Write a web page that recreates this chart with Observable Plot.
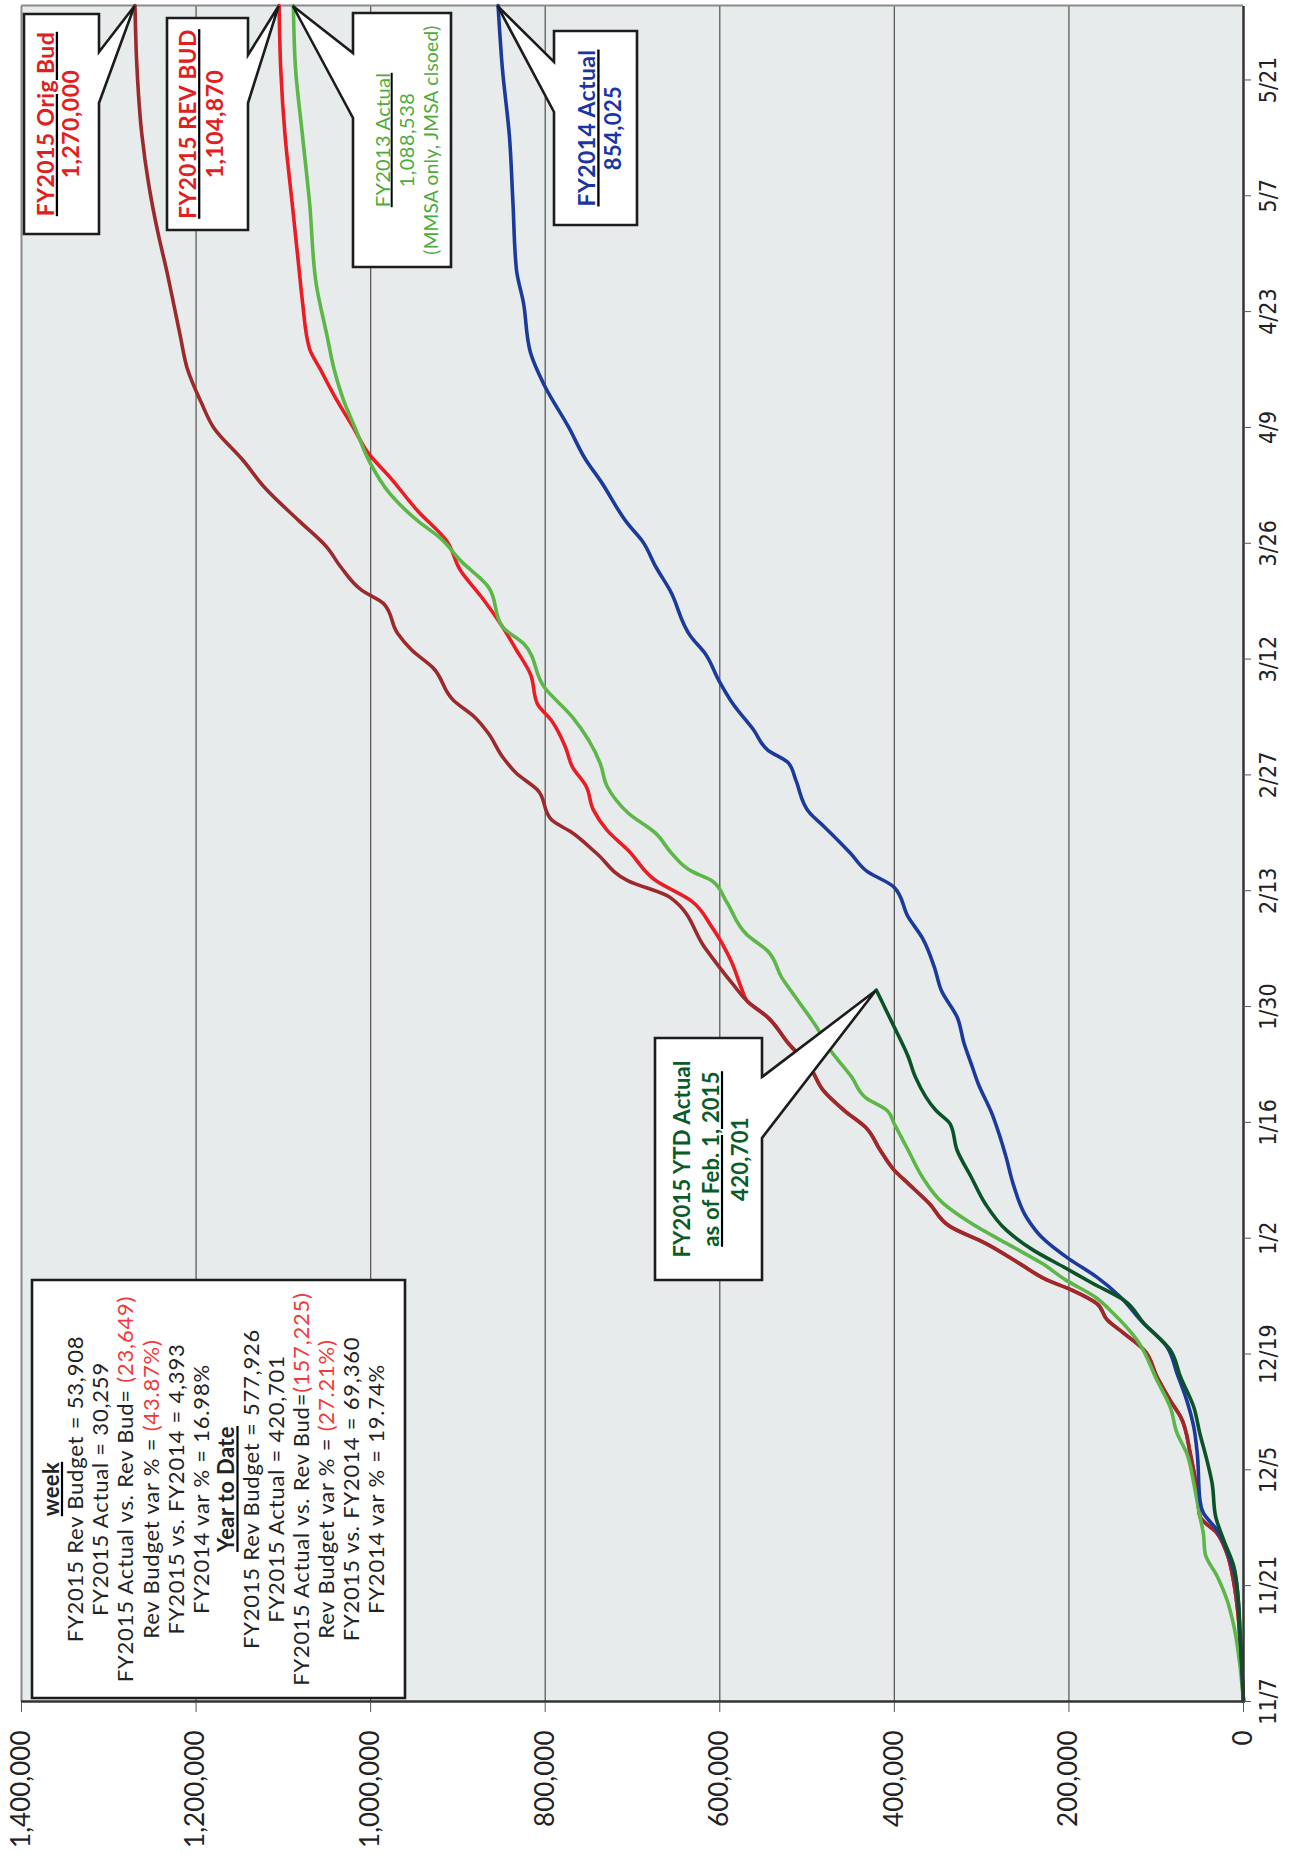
<!DOCTYPE html>
<html>
<head>
<meta charset="utf-8">
<script src="https://cdn.jsdelivr.net/npm/d3@7"></script>
<script src="https://cdn.jsdelivr.net/npm/@observablehq/plot@0.6"></script>
<style>
html, body { margin: 0; padding: 0; background: #ffffff; }
#page { position: relative; width: 1299px; height: 1854px; overflow: hidden; background: #ffffff; }
#rot { position: absolute; left: 0; top: 0; width: 1854px; height: 1299px;
       transform-origin: 0 0; transform: translate(0px, 1854px) rotate(-90deg); }
</style>
</head>
<body>
<div id="page"><div id="rot"></div></div>
<script>
// ---- Axis ticks ----
const tickDays = [0, 14, 28, 42, 56, 70, 84, 98, 112, 126, 140, 154, 168, 182, 196];
const tickLabels = ["11/7", "11/21", "12/5", "12/19", "1/2", "1/16", "1/30", "2/13", "2/27", "3/12", "3/26", "4/9", "4/23", "5/7", "5/21"];
const valueTicks = [0, 200000, 400000, 600000, 800000, 1000000, 1200000, 1400000];

// ---- Series: [day since 11/7, cumulative value] ----
const fy2015OrigBud = [
  [0,0],[5,3000],[10.3,6000],[14.3,11000],[17.9,19000],[20.3,30000],[22.4,50000],[25.2,53000],[30,61000],
  [34.4,72000],[36.4,84000],[39.2,99000],[42.5,114000],[44.5,137000],[46.1,156000],[48.1,168000],[49.7,196000],
  [51,226000],[52.9,256000],[55.4,296000],[57.4,336000],[60.2,360000],[62.6,384000],[64.2,400000],[66.6,416000],
  [69.4,433000],[71.4,457000],[73.8,481000],[76.7,497000],[79.5,521000],[82.7,545000],[84.7,569000],[86.7,585000],
  [91.1,617000],[97.2,657000],[99.2,705000],[102.5,741000],[105,769000],[106.6,793000],[110.2,809000],[112.2,833000],
  [114.2,849000],[117,865000],[119,881000],[121,905000],[125,929000],[127.1,953000],[129.1,969000],[132.7,985000],
  [134.3,1010000],[137.1,1034000],[139.5,1050000],[142.7,1082000],[146.8,1122000],[150,1146000],[154,1180000],
  [157,1194000],[161.1,1210000],[165,1218000],[169.1,1226000],[173.1,1234000],[177.2,1243000],[183.2,1254000],
  [189.3,1262000],[198.1,1268000],[205,1270000]
];
const fy2015RevBud = [
  [0,0],[5,3000],[10.3,6000],[14.3,11000],[17.9,19000],[20.3,30000],[22.4,50000],[25.2,53000],[30,61000],
  [34.4,72000],[36.4,84000],[39.2,99000],[42.5,114000],[44.5,137000],[46.1,156000],[48.1,168000],[49.7,196000],
  [51,226000],[52.9,256000],[55.4,296000],[57.4,336000],[60.2,360000],[62.6,384000],[64.2,400000],[66.6,416000],
  [69.4,433000],[71.4,457000],[73.8,481000],[76.7,497000],[79.5,521000],[82.7,545000],[84.7,569000],
  [85.9,574000],[89.5,587000],[93.6,609000],[96.8,633000],[99.2,673000],[102.9,705000],[105.3,729000],[107.8,745000],
  [110.6,753000],[113,769000],[115.4,777000],[118.6,793000],[120.6,809000],[124.2,817000],[127.1,833000],
  [129.9,849000],[133.5,873000],[136.7,897000],[140.3,913000],[143.9,946000],[148,978000],[150.8,1002000],
  [154,1020000],[157.9,1042000],[161.1,1058000],[163.5,1070000],[169.1,1078000],[173.1,1082000],[181.2,1090000],
  [189.2,1098000],[197.3,1103000],[205,1104870]
];
const fy2013Actual = [
  [0,0],[4.3,4000],[9.1,11000],[12.3,19000],[15.1,30000],[17.9,44000],[20.3,46000],[22.4,50000],[26.4,57000],
  [30,65000],[32.4,76000],[35.6,84000],[38.8,99000],[43.7,122000],[46.9,149000],[48.9,170000],[50.9,203000],
  [52.9,230000],[55.4,272000],[57.8,312000],[60.2,344000],[63.4,368000],[66.6,384000],[69.8,400000],[71.4,408000],
  [73,433000],[75.5,449000],[78.7,473000],[81.5,489000],[85.1,513000],[87.5,529000],[90.7,545000],[92.7,569000],
  [96.8,593000],[99.2,609000],[100.4,633000],[102.5,655000],[104.9,673000],[107.4,705000],[110.6,729000],
  [113.4,737000],[119,769000],[122.6,801000],[127.9,825000],[129.9,849000],[134.7,865000],[137.9,897000],
  [140.7,921000],[142.7,946000],[146,978000],[150,1002000],[154,1018000],[157,1030000],[161.1,1042000],
  [165.1,1050000],[171.1,1062000],[181.2,1070000],[189.2,1078000],[197.3,1086000],[205,1088538]
];
const fy2014Actual = [
  [0,0],[8.3,4000],[14.3,8000],[17.1,15000],[20.7,30000],[22.8,46000],[24.4,50000],[30,53000],[33.2,57000],
  [36.4,65000],[39.6,76000],[42.9,88000],[46.1,118000],[48.9,141000],[51.3,168000],[53.5,200000],[56.2,232000],
  [58.4,248000],[62.6,264000],[65.8,272000],[68.6,280000],[71,288000],[74.7,304000],[77.1,312000],[79.5,320000],
  [82.7,328000],[85.9,346000],[88.7,354000],[92.3,368000],[94.8,384000],[98.4,400000],[100.4,432000],[102.5,450000],
  [105.8,481000],[107.4,497000],[111.4,513000],[113.4,521000],[115,545000],[117.4,561000],[120.6,585000],
  [123.4,601000],[126.7,617000],[128.7,633000],[134.3,657000],[137.1,673000],[140.3,689000],[142.3,705000],
  [147.6,737000],[150,753000],[154,773000],[159.1,801000],[163.1,817000],[169.1,825000],[173.1,833000],
  [181.2,837000],[189.2,841000],[197.3,849000],[205,854025]
];
const fy2015Actual = [
  [0,0],[8.3,4000],[12.3,6000],[16.3,11000],[19.6,23000],[22.4,32000],[26.4,36000],[29.2,42000],[32.4,50000],
  [35.6,57000],[39.2,72000],[42.5,84000],[45.7,114000],[48.5,137000],[50.5,172000],[52.4,204000],[54.5,240000],
  [57,272000],[60.2,296000],[63.4,312000],[66.6,328000],[69.8,336000],[71.4,352000],[75.5,376000],[77.9,384000],
  [81.5,400000],[86,420701]
];

const seriesList = [
  {name: "FY2015 REV BUD", data: fy2015RevBud, color: "#ec1c24"},
  {name: "FY2015 Orig Bud", data: fy2015OrigBud, color: "#9c2a2c"},
  {name: "FY2013 Actual", data: fy2013Actual, color: "#5cb748"},
  {name: "FY2014 Actual", data: fy2014Actual, color: "#1c3a9c"},
  {name: "FY2015 Actual", data: fy2015Actual, color: "#0b5327"}
];

const W = 1854, H = 1299;
const sansFont = "Lato, 'Noto Sans', sans-serif";
const narrowFont = "'Liberation Sans Narrow', 'DejaVu Sans Condensed', 'Liberation Sans', sans-serif";

const plot = Plot.plot({
  width: W, height: H,
  marginLeft: 152, marginRight: 6, marginTop: 21, marginBottom: 56,
  style: {background: "transparent", overflow: "visible"},
  x: {domain: [0, 205]},
  y: {domain: [0, 1400000]},
  marks: [
    Plot.frame({fill: "#e7ebec", stroke: null}),
    Plot.ruleY(valueTicks.filter(v => v > 0 && v < 1400000), {stroke: "#5c5c5c", strokeWidth: 1.3}),
    Plot.ruleY([1400000], {stroke: "#8a8a8a", strokeWidth: 2}),
    Plot.ruleX([205], {stroke: "#8a8a8a", strokeWidth: 2}),
    ...seriesList.map(s => Plot.line(s.data, {x: d => d[0], y: d => d[1], stroke: s.color, strokeWidth: 3.6, curve: "monotone-x"})),
    Plot.ruleX([0], {stroke: "#333", strokeWidth: 2.5}),
    Plot.ruleY([0], {stroke: "#333", strokeWidth: 2.5}),
    Plot.axisX({ticks: tickDays, tickFormat: d => tickLabels[tickDays.indexOf(d)], tickSize: 8, tickPadding: 8,
      fontSize: 23, fontFamily: narrowFont, stroke: "#555", fill: "#222", label: null}),
    Plot.axisY({ticks: valueTicks, tickFormat: d3.format(","), tickSize: 10, tickPadding: 19,
      fontSize: 26, fontFamily: sansFont, stroke: "#555", fill: "#222", label: null})
  ]
});
document.getElementById("rot").appendChild(plot);

// ---- Callout annotations (landscape coords; tips from the chart scales) ----
const sx = plot.scale("x"), sy = plot.scale("y");
const svg = d3.select(plot);
const g = svg.append("g").attr("font-family", sansFont);

const red = "#e1201d", green13 = "#4dab3a", blue14 = "#1b35a3", dkgreen = "#0b5b26", neg = "#f03a3a", ink = "#232323";

const callouts = [
  {u0: 1620, u1: 1840, v0: 24, v1: 99, side: "bottom", base: [1751, 1802], tip: [205, 1270000],
   lines: [
     {v: 45.5, size: 23, weight: 700, ls: 0.4, underline: true, parts: [["FY2015 Orig Bud", red]]},
     {v: 71, size: 23, weight: 700, ls: 0.5, parts: [["1,270,000", red]]}
   ]},
  {u0: 1624, u1: 1836, v0: 167, v1: 248, side: "bottom", base: [1751, 1799], tip: [205, 1104870],
   lines: [
     {v: 188, size: 22.5, weight: 700, ls: 0.6, underline: true, parts: [["FY2015 REV BUD", red]]},
     {v: 215, size: 23, weight: 700, ls: 0.5, parts: [["1,104,870", red]]}
   ]},
  {u0: 1587, u1: 1841, v0: 353, v1: 451, side: "top", base: [1736, 1801], tip: [205, 1088538],
   lines: [
     {v: 382.5, size: 20, weight: 400, ls: 0.3, underline: true, parts: [["FY2013 Actual", green13]]},
     {v: 406.5, size: 20, weight: 400, ls: 0.5, parts: [["1,088,538", green13]]},
     {v: 431.5, size: 19, weight: 400, ls: 0.3, parts: [["(MMSA only, JMSA clsoed)", green13]]}
   ]},
  {u0: 1629, u1: 1823, v0: 554, v1: 637, side: "top", base: [1742, 1792], tip: [205, 854025],
   lines: [
     {v: 587, size: 23, weight: 700, ls: 0.4, underline: true, parts: [["FY2014 Actual", blue14]]},
     {v: 613, size: 22, weight: 700, ls: 0.4, parts: [["854,025", blue14]]}
   ]},
  {u0: 574, u1: 816, v0: 655, v1: 762, side: "bottom", base: [716, 777], tip: [86, 420701],
   lines: [
     {v: 682, size: 22, weight: 700, ls: 0.2, parts: [["FY2015 YTD Actual", dkgreen]]},
     {v: 711, size: 22, weight: 700, ls: 0.2, underline: true, parts: [["as of Feb. 1, 2015", dkgreen]]},
     {v: 740, size: 22, weight: 700, ls: 0.3, parts: [["420,701", dkgreen]]}
   ]},
  {u0: 156, u1: 574, v0: 32, v1: 405, side: null,
   lines: [
     {v: 51, size: 22, weight: 700, ls: 0.4, underline: true, parts: [["week", ink]]},
     {v: 75.5, size: 22, weight: 400, ls: 0.8, parts: [["FY2015 Rev Budget = 53,908", ink]]},
     {v: 100.5, size: 22, weight: 400, ls: 0.8, parts: [["FY2015 Actual = 30,259", ink]]},
     {v: 125.5, size: 22, weight: 400, ls: 0.8, parts: [["FY2015 Actual vs. Rev Bud= ", ink], ["(23,649)", neg]]},
     {v: 151, size: 22, weight: 400, ls: 0.8, parts: [["Rev Budget var % = ", ink], ["(43.87%)", neg]]},
     {v: 176, size: 22, weight: 400, ls: 0.8, parts: [["FY2015 vs. FY2014 = 4,393", ink]]},
     {v: 201, size: 22, weight: 400, ls: 0.8, parts: [["FY2014 var % = 16.98%", ink]]},
     {v: 226.5, size: 22, weight: 700, ls: 0.4, underline: true, parts: [["Year to Date", ink]]},
     {v: 251, size: 22, weight: 400, ls: 0.8, parts: [["FY2015 Rev Budget = 577,926", ink]]},
     {v: 276, size: 22, weight: 400, ls: 0.8, parts: [["FY2015 Actual = 420,701", ink]]},
     {v: 301.5, size: 22, weight: 400, ls: 0.8, parts: [["FY2015 Actual vs. Rev Bud=", ink], ["(157,225)", neg]]},
     {v: 326.5, size: 22, weight: 400, ls: 0.8, parts: [["Rev Budget var % = ", ink], ["(27.21%)", neg]]},
     {v: 351.5, size: 22, weight: 400, ls: 0.8, parts: [["FY2015 vs. FY2014 = 69,360", ink]]},
     {v: 376, size: 22, weight: 400, ls: 0.8, parts: [["FY2014 var % = 19.74%", ink]]}
   ]}
];

for (const c of callouts) {
  let pts;
  if (c.side) {
    const tx = sx.apply(c.tip[0]), ty = sy.apply(c.tip[1]);
    const [bLo, bHi] = c.base;
    if (c.side === "bottom") {
      pts = [[c.u0, c.v0], [c.u1, c.v0], [c.u1, c.v1], [bHi, c.v1], [tx, ty], [bLo, c.v1], [c.u0, c.v1]];
    } else {
      pts = [[c.u0, c.v0], [bLo, c.v0], [tx, ty], [bHi, c.v0], [c.u1, c.v0], [c.u1, c.v1], [c.u0, c.v1]];
    }
  } else {
    pts = [[c.u0, c.v0], [c.u1, c.v0], [c.u1, c.v1], [c.u0, c.v1]];
  }
  g.append("path")
    .attr("d", "M" + pts.map(p => p.join(",")).join("L") + "Z")
    .attr("fill", "#ffffff").attr("stroke", "#1c1c1c").attr("stroke-width", 2.6)
    .attr("stroke-linejoin", "miter");
  const uc = (c.u0 + c.u1) / 2;
  for (const ln of c.lines) {
    const t = g.append("text")
      .attr("x", uc).attr("y", ln.v).attr("dy", "0.36em")
      .attr("text-anchor", "middle")
      .attr("font-size", ln.size).attr("font-weight", ln.weight)
      .attr("letter-spacing", ln.ls || 0)
      .style("text-decoration", ln.underline ? "underline" : null);
    for (const [txt, col] of ln.parts) {
      t.append("tspan").attr("fill", col).text(txt);
    }
  }
}
</script>
</body>
</html>
